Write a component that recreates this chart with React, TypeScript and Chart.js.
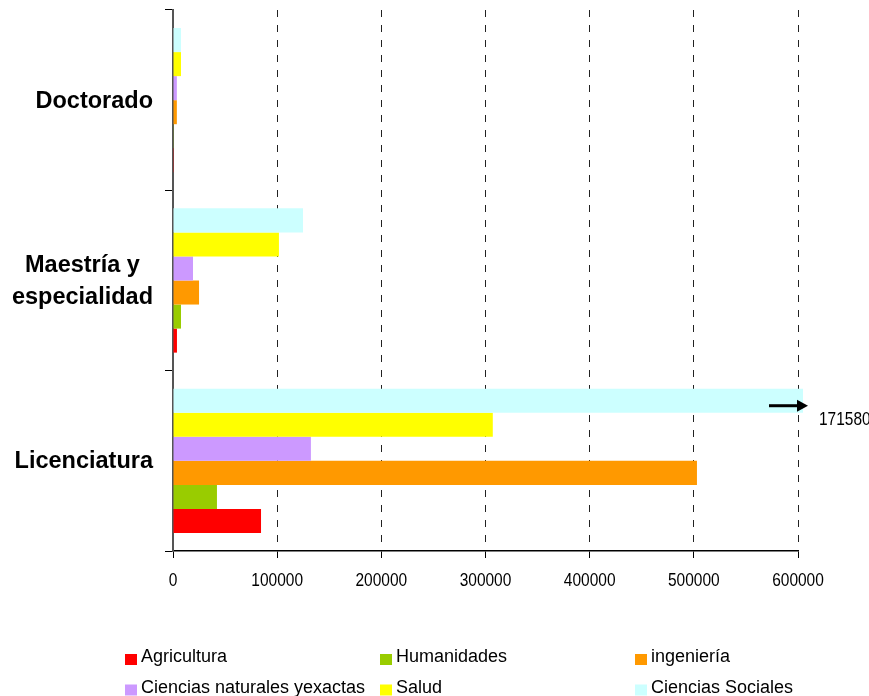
import { useEffect, useRef } from "react";
import { Chart, registerables } from "chart.js";

Chart.register(...registerables);

// ---- data ----
const categories = ["Doctorado", "Maestría y\nespecialidad", "Licenciatura"];
const seriesNames = [
  "Agricultura",
  "Humanidades",
  "ingeniería",
  "Ciencias naturales yexactas",
  "Salud",
  "Ciencias Sociales",
];
const seriesColors = ["#FF0000", "#99CC00", "#FF9900", "#CC99FF", "#FFFF00", "#CCFFFF"];
const agricultura = [200, 3800, 84500];
const humanidades = [300, 7700, 42200];
const ingenieria = [3700, 25000, 503000];
const cienciasNaturales = [3700, 19200, 132400];
const salud = [7700, 101700, 307000];
const cienciasSociales = [7700, 124800, 1171580];
const xTickValues = [0, 100000, 200000, 300000, 400000, 500000, 600000];
const overflowLabel = "171580";

const seriesValues = [agricultura, humanidades, ingenieria, cienciasNaturales, salud, cienciasSociales];

const SANS = "'Liberation Sans', Arial, sans-serif";
const NARROW_SCALE = 0.815;

function drawNarrow(ctx: CanvasRenderingContext2D, text: string, x: number, y: number, align: CanvasTextAlign) {
  ctx.save();
  ctx.translate(x, y);
  ctx.scale(NARROW_SCALE, 1);
  ctx.textAlign = align;
  ctx.textBaseline = "middle";
  ctx.fillText(text, 0, 0);
  ctx.restore();
}

export default function App() {
  const ref = useRef<HTMLCanvasElement | null>(null);

  useEffect(() => {
    const canvas = ref.current;
    if (!canvas) return;

    // datasets: first dataset is drawn at top of each group, so reverse order
    const datasets = seriesNames
      .map((name, i) => ({
        label: name,
        data: seriesValues[i],
        backgroundColor: seriesColors[i],
        borderWidth: 0,
        categoryPercentage: 0.8,
        barPercentage: 1.0,
        clip: { left: false, top: false, bottom: false, right: 5 } as any,
      }))
      .reverse();

    const customPlugin = {
      id: "custom",
      afterDraw(chart: any) {
        const ctx = chart.ctx as CanvasRenderingContext2D;
        const area = chart.chartArea;
        const yScale = chart.scales.y;
        const xScale = chart.scales.x;

        // x tick labels (condensed)
        ctx.save();
        ctx.fillStyle = "#000";
        ctx.font = `19px ${SANS}`;
        xScale.ticks.forEach((t: any) => {
          const px = xScale.getPixelForValue(t.value);
          drawNarrow(ctx, String(t.value), px, xScale.top + 30, "center");
        });
        ctx.restore();

        // category labels
        ctx.save();
        ctx.fillStyle = "#000";
        ctx.font = `bold 23.5px ${SANS}`;
        ctx.textBaseline = "middle";
        ctx.textAlign = "center";
        categories.forEach((cat, i) => {
          const lines = cat.split("\n");
          const w = Math.max(...lines.map((l) => ctx.measureText(l).width));
          const right = area.left - 20;
          const cx = right - w / 2;
          const cy = yScale.getPixelForValue(i);
          const lh = 32;
          lines.forEach((l, k) => {
            const y = cy + (k - (lines.length - 1) / 2) * lh + 1;
            ctx.fillText(l, cx, y);
          });
        });
        ctx.restore();

        // overflow arrow + label for the clipped bar
        const csIndex = 0; // Ciencias Sociales dataset (drawn first after reverse)
        const meta = chart.getDatasetMeta(csIndex);
        const bar = meta.data[2];
        if (bar) {
          const ay = bar.y + 5;
          const x1 = area.right - 29;
          const x2 = area.right + 10;
          ctx.save();
          ctx.strokeStyle = "#000";
          ctx.fillStyle = "#000";
          ctx.lineWidth = 3;
          ctx.beginPath();
          ctx.moveTo(x1, ay);
          ctx.lineTo(x2 - 8, ay);
          ctx.stroke();
          ctx.beginPath();
          ctx.moveTo(x2, ay);
          ctx.lineTo(x2 - 11, ay - 6);
          ctx.lineTo(x2 - 11, ay + 6);
          ctx.closePath();
          ctx.fill();
          ctx.font = `19px ${SANS}`;
          drawNarrow(ctx, overflowLabel, area.right + 21, bar.y + 19, "left");
          ctx.restore();
        }

        // legend (3 columns x 2 rows)
        ctx.save();
        ctx.font = `18px ${SANS}`;
        ctx.textBaseline = "middle";
        ctx.textAlign = "left";
        seriesNames.forEach((name, i) => {
          const col = i % 3;
          const row = Math.floor(i / 3);
          const sx = 125 + col * 255;
          const sy = 654 + row * 30.5;
          ctx.fillStyle = seriesColors[i];
          ctx.fillRect(sx, sy, 12, 11);
          ctx.fillStyle = "#000";
          ctx.fillText(name, sx + 16, sy + 3.5);
        });
        ctx.restore();
      },
    };

    const chart = new Chart(canvas, {
      type: "bar",
      data: { labels: categories, datasets },
      options: {
        indexAxis: "y",
        animation: false,
        responsive: false,
        maintainAspectRatio: false,
        events: [],
        layout: { padding: { top: 10, right: 71, bottom: 105, left: 0 } },
        plugins: {
          legend: { display: false },
          tooltip: { enabled: false },
          title: { display: false },
        },
        scales: {
          x: {
            type: "linear",
            min: 0,
            max: 600000,
            afterBuildTicks: (scale: any) => {
              scale.ticks = xTickValues.map((v) => ({ value: v }));
            },
            afterFit: (scale: any) => {
              scale.height = 40;
            },
            ticks: {
              display: false,
              autoSkip: false,
            },
            grid: {
              color: (c: any) => (c.tick && c.tick.value === 0 ? "rgba(0,0,0,0)" : "#222"),
              lineWidth: 1,
              drawTicks: true,
              tickLength: 7,
              tickColor: "#000",
              tickWidth: 1,
            },
            border: { display: true, color: "#000", width: 1.5, dash: [7, 8] },
          },
          y: {
            type: "category",
            afterFit: (scale: any) => {
              scale.width = 173;
            },
            ticks: { display: false },
            grid: {
              offset: true,
              drawOnChartArea: false,
              drawTicks: true,
              tickLength: 8,
              tickColor: "#000",
              tickWidth: 1,
            },
            border: { display: true, color: "#555", width: 2 },
          },
        },
      },
      plugins: [customPlugin],
    } as any);

    return () => chart.destroy();
  }, []);

  return (
    <div style={{ position: "fixed", left: 0, top: 0, width: 869, height: 696, background: "#fff" }}>
      <canvas ref={ref} width={869} height={696} style={{ display: "block", width: 869, height: 696 }} />
    </div>
  );
}
